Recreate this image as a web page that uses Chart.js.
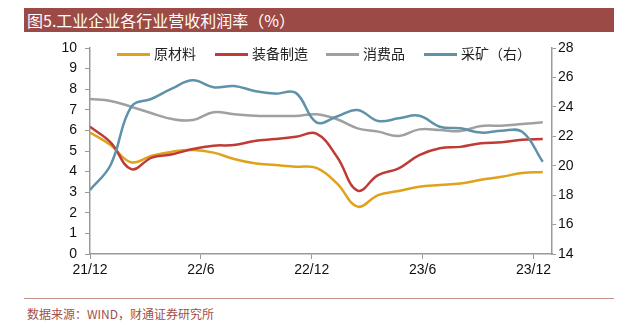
<!DOCTYPE html>
<html><head><meta charset="utf-8">
<script src="https://cdn.jsdelivr.net/npm/chart.js@4"></script>
<style>
html,body{margin:0;padding:0;background:#fff;width:632px;height:322px;overflow:hidden;}
#wrap{position:relative;width:632px;height:322px;}
#title{position:absolute;left:24px;top:8px;width:590px;height:24px;background:#9C4A45;color:#fff;
 font-family:"Noto Sans CJK SC",sans-serif;font-size:16px;line-height:24px;padding-left:3px;box-sizing:border-box;z-index:2;}
#foot{position:absolute;left:24px;top:298px;width:590px;border-top:1px solid #C4908B;z-index:2;}
#src{position:absolute;left:27px;top:306px;color:#A0504A;font-family:"Noto Sans CJK SC",sans-serif;font-size:12px;line-height:16px;z-index:2;}
.lg{position:absolute;top:45px;height:16px;font-family:"Noto Sans CJK SC",sans-serif;font-size:14px;line-height:16px;color:#222;z-index:2;white-space:nowrap;}
.lg i{display:inline-block;width:33px;height:3px;vertical-align:middle;margin-right:4px;position:relative;top:-1px;}
canvas{position:absolute;left:0;top:0;}
</style></head>
<body><div id="wrap">
<div id="title">图5.工业企业各行业营收利润率（%）</div>
<div id="legend"></div>
<canvas id="c" width="632" height="290"></canvas>
<div id="foot"></div>
<div id="src">数据来源：WIND，财通证券研究所</div>
</div>
<script>
// data periods (Jan-Feb reported together)
const categories = ["21/12","22/2","22/3","22/4","22/5","22/6","22/7","22/8","22/9","22/10","22/11","22/12",
  "23/2","23/3","23/4","23/5","23/6","23/7","23/8","23/9","23/10","23/11","23/12"];
const tickMonths = [0,6,12,18,24];
const tickLabels = ["21/12","22/6","22/12","23/6","23/12"];
const seriesNames = ["原材料","装备制造","消费品","采矿（右）"];
const rawMaterials = [5.9,5.29,4.45,4.77,4.97,5.05,4.92,4.61,4.4,4.32,4.24,4.18,3.43,2.3,2.86,3.06,3.27,3.35,3.42,3.6,3.75,3.93,3.98];
const equipment    = [6.18,5.42,4.12,4.68,4.84,5.1,5.26,5.29,5.49,5.58,5.69,5.84,4.72,3.08,3.83,4.16,4.8,5.13,5.2,5.38,5.42,5.55,5.58];
const consumer     = [7.52,7.43,7.15,6.83,6.55,6.5,6.88,6.78,6.71,6.7,6.7,6.78,6.54,6.1,5.94,5.73,6.05,6.02,5.97,6.21,6.23,6.31,6.39];
const mining       = [18.35,20.05,24.0,24.55,25.26,25.8,25.33,25.42,25.08,24.9,24.95,22.95,23.34,23.79,23.04,23.22,23.4,22.65,22.54,22.25,22.38,22.3,20.27];
const leftTicks = {min:0,max:10,step:1};
const rightTicks = {min:14,max:28,step:2};

const colors = ["#E0A11B","#BE3B36","#A0A0A0","#5E92AA"];
const legendX = [117,215,326,424];
const lg = document.getElementById('legend');
seriesNames.forEach((n,i)=>{
  const d=document.createElement('div');d.className='lg';d.style.left=legendX[i]+'px';
  d.innerHTML='<i style="background:'+colors[i]+'"></i>'+n;lg.appendChild(d);
});
// the periods are spread evenly from 21/12 to just past the 23/12 tick (month units)
const span = 24.5;
const pos = categories.map((c,i)=> i*span/(categories.length-1));
const mk = arr => pos.map((p,i)=>({x:p,y:arr[i]}));
const datasets = [rawMaterials,equipment,consumer,mining].map((arr,i)=>({
  label:seriesNames[i], data:mk(arr), borderColor:colors[i], backgroundColor:colors[i],
  borderWidth:2.5, pointRadius:0, tension:0.4, fill:false, yAxisID: i===3?'y1':'y', order:3-i
}));
const axisColor="#9A9A9A";
const tickFont={family:"'Liberation Sans', Arial, sans-serif",size:14};
new Chart(document.getElementById('c'),{
  type:'line',
  data:{datasets},
  options:{
    responsive:false,animation:false,
    layout:{padding:{left:0,top:48,right:0,bottom:0}},
    plugins:{legend:{display:false},tooltip:{enabled:false}},
    scales:{
      x:{type:'linear',min:0,max:25,
        afterBuildTicks:s=>{s.ticks=tickMonths.map(v=>({value:v}));},
        afterFit:s=>{s.height=36;},
        ticks:{font:tickFont,color:'#111',padding:3,maxRotation:0,autoSkip:false,
          callback:(v)=>{const k=tickMonths.indexOf(v);return k>=0?tickLabels[k]:'';}},
        grid:{drawOnChartArea:false,drawTicks:true,tickLength:5,color:axisColor},
        border:{display:true,color:axisColor,width:1.5}
      },
      y:{position:'left',min:leftTicks.min,max:leftTicks.max,
        afterFit:s=>{s.width=90;},
        ticks:{stepSize:leftTicks.step,font:tickFont,color:'#111',padding:8},
        grid:{drawOnChartArea:false,drawTicks:true,tickLength:5,color:axisColor},
        border:{display:true,color:axisColor,width:1.5}
      },
      y1:{position:'right',min:rightTicks.min,max:rightTicks.max,
        afterFit:s=>{s.width=80;},
        ticks:{stepSize:rightTicks.step,font:tickFont,color:'#111',padding:2},
        grid:{drawOnChartArea:false,drawTicks:true,tickLength:4,color:axisColor},
        border:{display:true,color:axisColor,width:1.5}
      }
    }
  }
});
</script>
</body></html>
